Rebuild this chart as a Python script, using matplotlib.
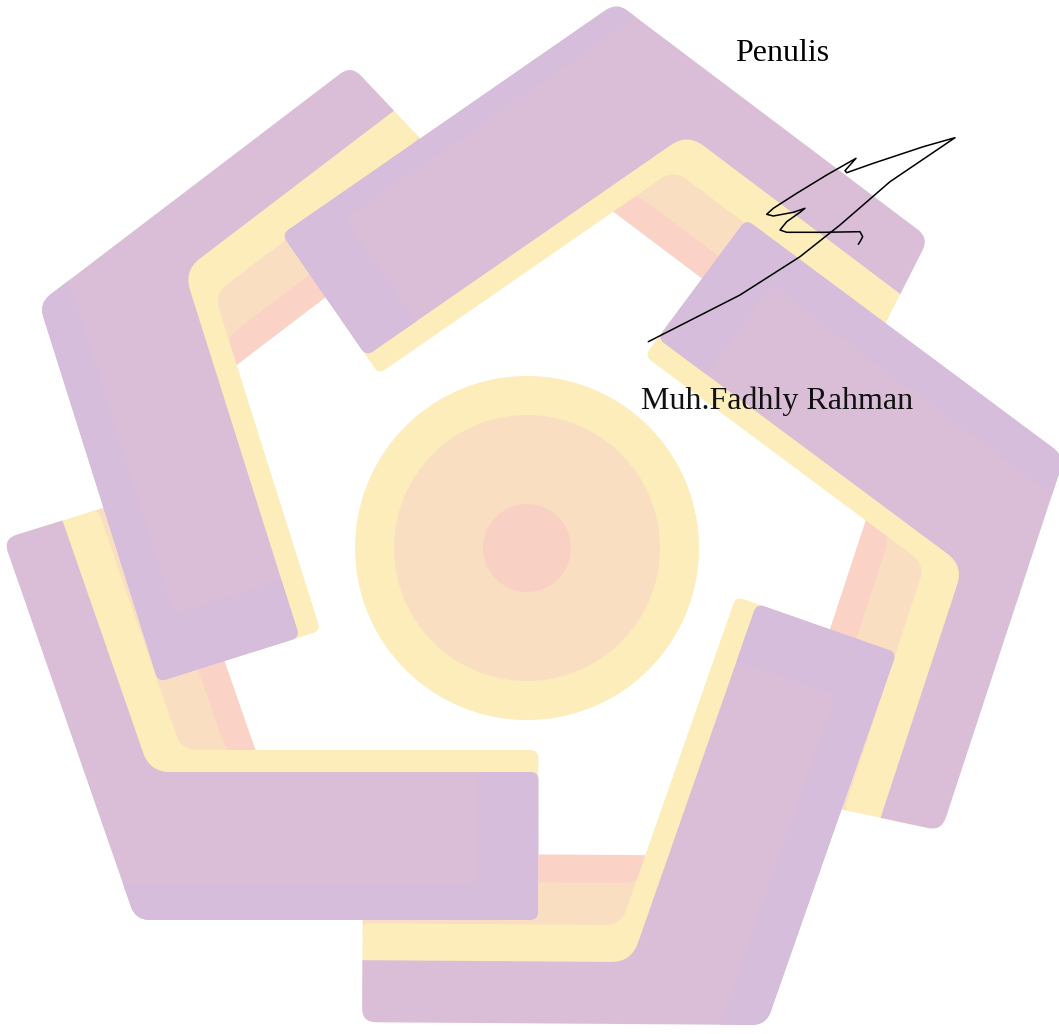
import numpy as np
import matplotlib
matplotlib.use('Agg')
import matplotlib.pyplot as plt
from matplotlib.path import Path
from matplotlib.patches import PathPatch, Circle

W, H = 1059, 1034

# logo arms, clockwise starting from the bottom-left one
corner_x = [135.6, 39, 616.6, 1064.6, 766]
corner_y = [920, 303.2, 2.6, 456.5, 1025]
arm_angle = [0, 72.5, 145.3, 216.65, 289.3]        # direction of the inner leg
arm_bend = [109.15, 109.8, 108.3, 108.45, 108.9]   # angle between the two legs
inner_len = [402.7, 397, 407, 397, 394.5]
outer_len = [403.5, 392.5, 391, 394.2, 404]
tip_skew = [-2, 6, 10, 6, 0]
band_width = [37, 35, 23, 38, 43]

circle_center = (527, 548)
circle_radius = [172, 133, 44]

title_text = "Penulis"
name_text = "Muh.Fadhly Rahman"

sig_x = [648.3, 740, 800, 840, 890, 955, 923.3, 873.3, 846.7, 845, 856, 826.7,
         796.7, 773.3, 766.7, 773.3, 793.3, 805, 800, 786.7, 780, 786.7, 823.3,
         860, 862.7, 860, 858.3]
sig_y = [341.7, 295, 256.7, 225, 181.7, 137.7, 146.7, 163.3, 172.7, 170.7, 158.3,
         175, 193.3, 208.3, 214.3, 216, 212.3, 208.3, 212.3, 221.7, 230, 232.3,
         232.3, 231.7, 236.7, 241.7, 244.3]

purple = '#dabed8'
purple_blue = '#d5bddb'
yellow = '#fcedbb'
peach = '#fadec1'
pink = '#fad3c6'
circle_colors = [yellow, peach, '#f9d1c4']

# widths of the layers of one arm
Wi, Wo = 148, 62      # purple, inner / outer leg
Yi, Yo = 22, 37       # yellow strip
Po, Ko = 42, 28       # peach, pink strip on the outer leg
Be = 60               # darker band at the end of the inner leg


def arm_layers(L, Lo, bend, skew, Bs):
    phi = np.radians(bend)
    d_o = np.array([np.cos(phi), np.sin(phi)])
    n_o = np.array([np.sin(phi), -np.cos(phi)])
    t = np.tan(np.radians(skew))

    def on_outer(s, off):
        return s * d_o + off * n_o

    def tip(off):
        return on_outer(Lo + off * t, off)

    def corner(v, off):
        s = (v - off * n_o[1]) / d_o[1]
        return on_outer(s, off)

    o1 = Wo + Yo
    o2 = o1 + Po
    o3 = o2 + Ko
    return [
        ([(330, 120), (330, 163), corner(163, o3), tip(o3), tip(120), on_outer(100, 120)],
         [0, 0, 10, 6, 0, 0], pink),
        ([(300, 100), (300, 165), corner(165, o2), tip(o2), tip(90), on_outer(100, 90)],
         [0, 0, 18, 6, 0, 0], peach),
        ([(L, 100), (L, Wi + Yi), corner(Wi + Yi, o1), tip(o1), tip(30), on_outer(60, 30)],
         [0, 8, 16, 6, 0, 0], yellow),
        ([(0, 0), (L, 0), (L, Wi), corner(Wi, Wo), tip(Wo), tip(0)],
         [14, 8, 8, 20, 0, 14], purple),
        ([(0, 0), (L, 0), (L, Wi), (L - Be, Wi), (L - Be, Bs), corner(Bs, 0)],
         [14, 8, 8, 0, 6, 0], purple_blue),
    ]


def to_screen(pts, cx, cy, ang):
    a = np.radians(ang)
    return np.array([(cx + u * np.cos(a) + v * np.sin(a),
                      cy + u * np.sin(a) - v * np.cos(a)) for u, v in pts])


def rounded_path(pts, radii):
    verts, codes = [], []
    n = len(pts)
    for i in range(n):
        p = pts[i]
        r = radii[i]
        if r <= 0:
            verts.append(p)
            codes.append(Path.LINETO)
            continue
        d1 = pts[i - 1] - p
        d2 = pts[(i + 1) % n] - p
        l1, l2 = np.hypot(*d1), np.hypot(*d2)
        verts += [p + d1 / l1 * min(r, l1 / 2), p, p + d2 / l2 * min(r, l2 / 2)]
        codes += [Path.LINETO, Path.CURVE3, Path.CURVE3]
    codes[0] = Path.MOVETO
    verts.append(verts[0])
    codes.append(Path.CLOSEPOLY)
    return Path(verts, codes)


def arm_paths(k):
    out = []
    for pts, radii, col in arm_layers(inner_len[k], outer_len[k], arm_bend[k],
                                      tip_skew[k], band_width[k]):
        sp = to_screen(pts, corner_x[k], corner_y[k], arm_angle[k])
        out.append((rounded_path(sp, radii), col))
    return out


def signed_area(p):
    x, y = p[:, 0], p[:, 1]
    return 0.5 * np.sum(x * np.roll(y, -1) - np.roll(x, -1) * y)


fig = plt.figure(figsize=(W / 100, H / 100), dpi=100)
ax = fig.add_axes([0, 0, 1, 1])
ax.set_xlim(0, W)
ax.set_ylim(H, 0)
ax.axis('off')

for r, c in zip(circle_radius, circle_colors):
    ax.add_patch(Circle(circle_center, r, facecolor=c, edgecolor='none', zorder=1))

# the first arm's inner leg lies over the last arm's outer leg:
# the last arm is clipped with a hole where the first arm's purple is
hole = arm_paths(0)[3][0].to_polygons()[0]
frame = np.array([(-50, -50), (W + 50, -50), (W + 50, H + 50), (-50, H + 50), (-50, -50)], float)
if np.sign(signed_area(frame[:-1])) == np.sign(signed_area(hole[:-1])):
    hole = hole[::-1]
hole_clip = PathPatch(Path.make_compound_path(Path(frame, closed=True),
                                              Path(hole, closed=True)),
                      transform=ax.transData)

for k in range(5):
    for path, col in arm_paths(k):
        patch = PathPatch(path, facecolor=col, edgecolor='none', zorder=2 + k)
        ax.add_patch(patch)
        if k == 4:
            patch.set_clip_path(hole_clip)

ax.plot(sig_x, sig_y, color='black', lw=1.1, solid_joinstyle='round',
        solid_capstyle='round', zorder=10)

ax.text(735.3, 61.4, title_text, family='Liberation Serif', fontsize=23,
        ha='left', va='baseline', color='black', zorder=11)
ax.text(640.8, 408.8, name_text, family='Liberation Serif', fontsize=23,
        ha='left', va='baseline', color='#111111', zorder=11)

fig.savefig('out.png', dpi=100, facecolor='white')
